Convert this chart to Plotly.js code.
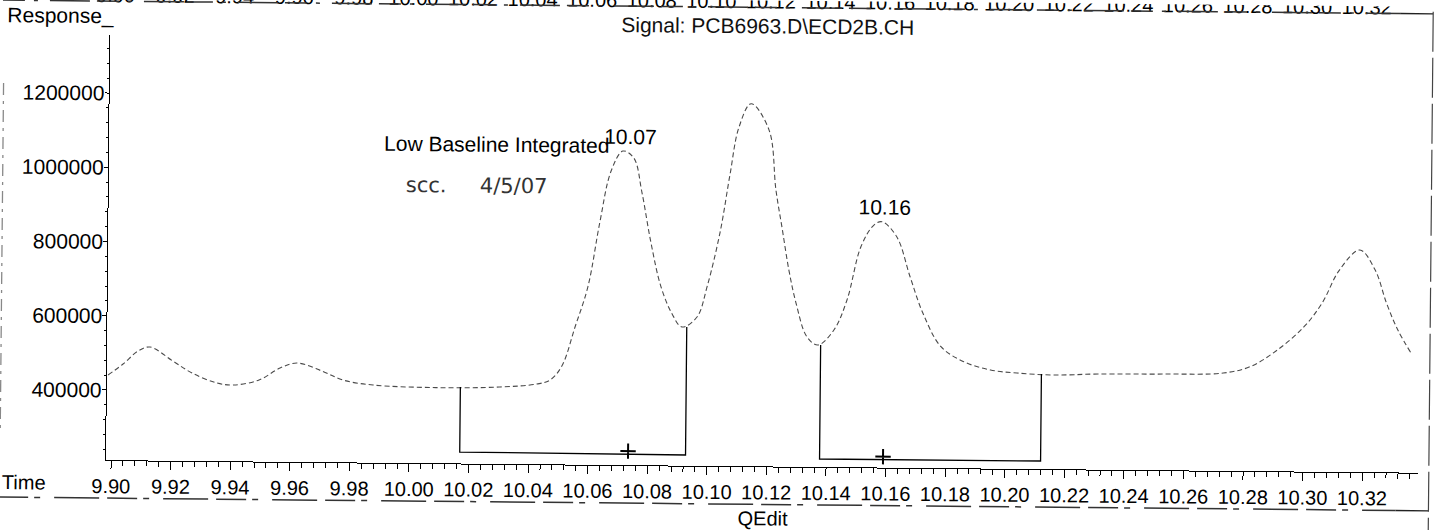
<!DOCTYPE html>
<html>
<head>
<meta charset="utf-8">
<script src="https://cdn.plot.ly/plotly-3.0.1.min.js"></script>
<style>
html,body{margin:0;padding:0;background:#fff;overflow:hidden;}
#chart{width:1443px;height:530px;transform:rotate(0.55deg);transform-origin:721px 265px;}
</style>
</head>
<body>
<div id="chart"></div>
<script>
// ---- chromatogram signal (time in min, response) ----
const time = [9.8987, 9.9037, 9.9087, 9.9127, 9.9204, 9.9269, 9.9353, 9.9410, 9.9494, 9.9564,
  9.9621, 9.9705, 9.9776, 9.9877, 10.0088, 10.0300, 10.0427, 10.0471, 10.0510, 10.0553,
  10.0595, 10.0633, 10.0669, 10.0708, 10.0745, 10.0773, 10.0805, 10.0840, 10.0878, 10.0912,
  10.0962, 10.0995, 10.1037, 10.1068, 10.1097, 10.1137, 10.1198, 10.1223, 10.1246, 10.1269,
  10.1294, 10.1332, 10.1369, 10.1422, 10.1465, 10.1510, 10.1553, 10.1580, 10.1630, 10.1676,
  10.1720, 10.1782, 10.1859, 10.1949, 10.2038, 10.2159, 10.2310, 10.2535, 10.2730, 10.2820,
  10.2911, 10.3000, 10.3060, 10.3117, 10.3185, 10.3237, 10.3276, 10.3315, 10.3360];
const response = [440400, 470400, 505800, 516900, 479800, 448000, 421700, 416800, 430900, 463700,
  477600, 456700, 433000, 420400, 415000, 418200, 427300, 438400, 476400, 581800,
  690900, 865200, 1002800, 1057000, 1038400, 947100, 811300, 692800, 620100, 584600,
  611900, 694000, 841400, 995100, 1124600, 1187900, 1117300, 955900, 848400, 740800,
  652100, 560900, 539600, 580400, 661500, 805400, 864200, 873300, 833300, 725900,
  628500, 538200, 498400, 476700, 469300, 464900, 468700, 470400, 474600, 492300,
  538000, 601400, 665700, 755000, 809400, 756000, 667400, 595000, 533400];

// ---- integration baselines (drop lines + baseline) ----
const base1Time = [10.0170, 10.0170, 10.0928, 10.0928];
const base1Resp = [417000, 242000, 240000, 584600];
const base2Time = [10.1378, 10.1378, 10.2120, 10.2120];
const base2Resp = [539600, 232600, 232900, 467200];

// ---- peak centre markers on baselines ----
const markTime = [10.0735, 10.1591];
const markResp = [249000, 240500];

// ---- labelled peaks ----
const peakLabels = ['10.07', '10.16'];

// ---- axis ticks ----
const xTick0 = 9.90, xTickStep = 0.02;
const yTickValues = [400000, 600000, 800000, 1000000, 1200000];
const yTickLabels = ['400000', '600000', '800000', '1000000', '1200000'];

const FONT = 'Liberation Sans, Arial, Helvetica, sans-serif';

function apexNear(t0) {
  let best = -1, bi = 0;
  for (let i = 0; i < time.length; i++) {
    if (Math.abs(time[i] - t0) < 0.006 && response[i] > best) { best = response[i]; bi = i; }
  }
  return {t: time[bi], v: response[bi]};
}

const traces = [
  {x: time, y: response, type: 'scatter', mode: 'lines',
   line: {color: '#4a4a4a', width: 1.1, dash: '5px,3px', shape: 'spline', smoothing: 1},
   hoverinfo: 'skip', showlegend: false},
  {x: base1Time, y: base1Resp, type: 'scatter', mode: 'lines',
   line: {color: '#000', width: 1.3}, hoverinfo: 'skip', showlegend: false},
  {x: base2Time, y: base2Resp, type: 'scatter', mode: 'lines',
   line: {color: '#000', width: 1.3}, hoverinfo: 'skip', showlegend: false},
  {x: markTime, y: markResp, type: 'scatter', mode: 'markers',
   marker: {symbol: 'cross-thin', size: 11, color: '#000', line: {color: '#000', width: 2}},
   hoverinfo: 'skip', showlegend: false},
  {x: [null], y: [null], xaxis: 'x2', type: 'scatter', mode: 'lines', hoverinfo: 'skip', showlegend: false}
];

const xShift = [8, 3];
const peakAnn = peakLabels.map((lab, i) => {
  const a = apexNear(parseFloat(lab));
  return {x: a.t, y: a.v, xref: 'x', yref: 'y', text: lab, showarrow: false,
          xanchor: 'center', yanchor: 'bottom', xshift: xShift[i], yshift: 1,
          font: {family: FONT, size: 21, color: '#000'}};
});

const annotations = peakAnn.concat([
  {x: -0.0803, y: 1.0449, xref: 'paper', yref: 'paper', text: 'Response_', showarrow: false,
   xanchor: 'left', yanchor: 'middle', font: {family: FONT, size: 21, color: '#000'}},
  {x: 0.5009, y: 1.0365, xref: 'paper', yref: 'paper', text: 'Signal: PCB6963.D\\ECD2B.CH', showarrow: false,
   xanchor: 'center', yanchor: 'middle', font: {family: FONT, size: 21, color: '#111'}},
  {x: 0.2081, y: 0.7518, xref: 'paper', yref: 'paper', text: 'Low Baseline Integrated', showarrow: false,
   xanchor: 'left', yanchor: 'middle', font: {family: FONT, size: 21, color: '#000'}},
  {x: 0.2803, y: 0.6534, xref: 'paper', yref: 'paper', text: 'scc.\u00a0\u00a0\u00a0\u00a0 4/5/07', showarrow: false,
   xanchor: 'center', yanchor: 'middle', font: {family: 'DejaVu Sans ExtraLight, DejaVu Sans, sans-serif', size: 21, color: '#333'}},
  {x: -0.0807, y: -0.0534, xref: 'paper', yref: 'paper', text: 'Time', showarrow: false,
   xanchor: 'left', yanchor: 'middle', font: {family: FONT, size: 20, color: '#000'}},
  {x: 0.5007, y: -0.1226, xref: 'paper', yref: 'paper', text: 'QEdit', showarrow: false,
   xanchor: 'center', yanchor: 'middle', font: {family: FONT, size: 20, color: '#000'}}
]);

const shapes = [
  // broken rule under the cut-off previous axis (top)
  {type: 'line', xref: 'paper', yref: 'paper', x0: -0.082, x1: 0.983, y0: 1.0800, y1: 1.0800,
   line: {color: '#333', width: 1.5, dash: '22px,9px,4px,12px,40px,7px'}},
  {type: 'line', xref: 'paper', yref: 'paper', x0: 0.983, x1: 1.0082, y0: 1.0800, y1: 1.0800,
   line: {color: '#222', width: 1.3}},
  // broken rule under the x tick labels (bottom)
  {type: 'line', xref: 'paper', yref: 'paper', x0: -0.082, x1: 0.983, y0: -0.0894, y1: -0.0894,
   line: {color: '#333', width: 1.5, dash: '30px,6px,6px,14px,45px,8px'}},
  {type: 'line', xref: 'paper', yref: 'paper', x0: 0.983, x1: 1.0082, y0: -0.0894, y1: -0.0894,
   line: {color: '#222', width: 1.3}},
  // right frame line
  {type: 'line', xref: 'paper', yref: 'paper', x0: 1.0082, x1: 1.0082, y0: 1.0850, y1: -0.16,
   line: {color: '#444', width: 1.2, dash: '40px,6px'}},
  // left faint frame line
  {type: 'line', xref: 'paper', yref: 'paper', x0: -0.0809, x1: -0.0809, y0: 0.885, y1: 0.06,
   line: {color: '#888', width: 1.3, dash: '12px,6px,3px,6px'}}
];

const layout = {
  width: 1443, height: 530,
  margin: {l: 108, r: 23, t: 41, b: 64, pad: 0},
  paper_bgcolor: '#fff', plot_bgcolor: '#fff',
  showlegend: false,
  font: {family: FONT, color: '#000'},
  xaxis: {
    range: [9.89832, 10.33874], tickmode: 'linear', tick0: xTick0, dtick: xTickStep, tickformat: '.2f',
    ticks: 'outside', ticklen: 8, tickwidth: 1, tickcolor: '#000',
    showline: true, linecolor: '#000', linewidth: 1, showgrid: false, zeroline: false,
    tickfont: {family: FONT, size: 20, color: '#000'},
    minor: {tickmode: 'linear', tick0: xTick0, dtick: xTickStep / 5, ticks: 'outside', ticklen: 5, tickcolor: '#000', showgrid: false}
  },
  xaxis2: {
    overlaying: 'x', side: 'top', anchor: 'y',
    range: [9.89832, 10.33874], tickmode: 'linear', tick0: xTick0, dtick: xTickStep, tickformat: '.2f',
    ticks: '', showline: false, showgrid: false, zeroline: false, ticklabelstandoff: 28,
    tickfont: {family: FONT, size: 20, color: '#000'}
  },
  yaxis: {
    range: [211200, 1356000], tickmode: 'array', tickvals: yTickValues, ticktext: yTickLabels,
    ticks: 'outside', ticklen: 4, tickwidth: 1, tickcolor: '#000', ticklabelstandoff: -4,
    showline: true, linecolor: '#000', linewidth: 1, showgrid: false, zeroline: false,
    tickfont: {family: FONT, size: 21, color: '#000'},
    minor: {tickmode: 'linear', tick0: 0, dtick: 40000, ticks: 'outside', ticklen: 2, tickcolor: '#000', showgrid: false}
  },
  annotations: annotations,
  shapes: shapes
};

Plotly.newPlot('chart', traces, layout, {displayModeBar: false, staticPlot: true});
</script>
</body>
</html>
